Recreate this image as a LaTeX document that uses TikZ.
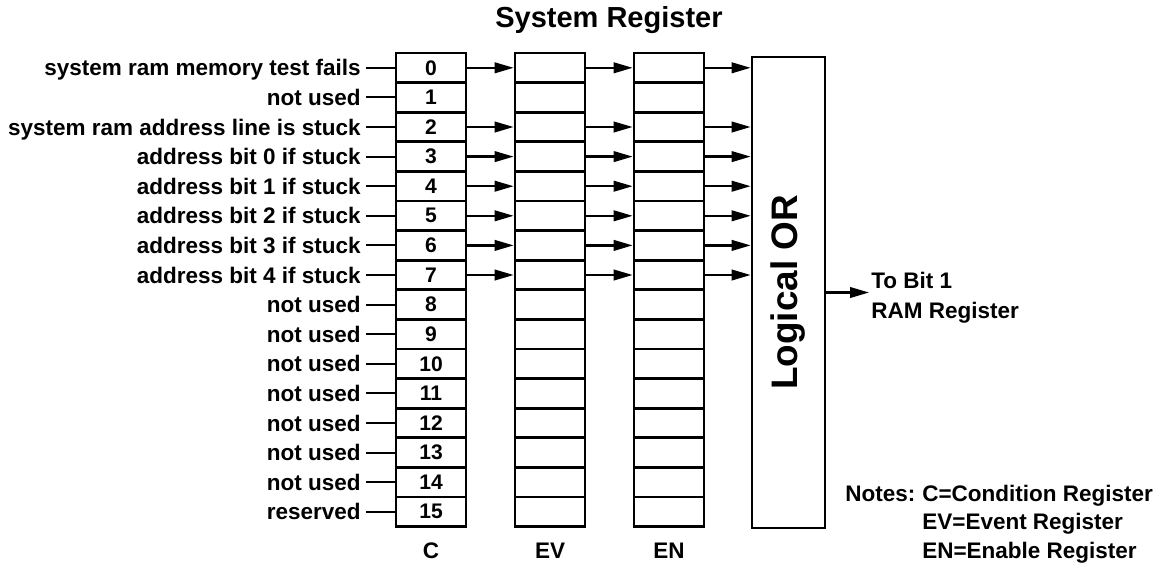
\documentclass[tikz,border=0pt]{standalone}
\usepackage{fontspec}
\setmainfont{Liberation Sans}
\usetikzlibrary{arrows.meta}
\tikzset{
  >={Triangle[length=3.8mm,width=2.1mm]},
  cell/.style={draw,line width=1.5pt,minimum width=14mm,minimum height=5.92mm,inner sep=0pt,
    font=\bfseries\fontsize{12}{14}\selectfont},
  orbox/.style={draw,line width=1.5pt,minimum width=14.6mm,minimum height=94.2mm,inner sep=0pt,
    font=\bfseries\fontsize{21}{24}\selectfont},
  lbl/.style={font=\bfseries\fontsize{12.8}{17}\selectfont,inner sep=0pt,align=left},
  wire/.style={line width=1.2pt},
  flow/.style={->,line width=1.3pt},
}
\begin{document}
\begin{tikzpicture}[x=0.2mm,y=-0.2mm]
  \useasboundingbox (0,0) rectangle (1173,569);
  \node[lbl,font=\bfseries\fontsize{16.5}{19}\selectfont,anchor=base] (title) at (609,27) {System Register};
  \node[orbox] (or) at (788.5,292.5) {\rotatebox{90}{Logical OR}};
  % the three registers, one row per bit
  \foreach \k/\t in {0/system ram memory test fails,1/not used,2/system ram address line is stuck,
      3/address bit 0 if stuck,4/address bit 1 if stuck,5/address bit 2 if stuck,6/address bit 3 if stuck,
      7/address bit 4 if stuck,8/not used,9/not used,10/not used,11/not used,12/not used,13/not used,
      14/not used,15/reserved}{
    \pgfmathsetmacro\yy{67.8+29.6*\k}
    \node[cell] (c\k) at (431,\yy) {\k};
    \node[cell] (ev\k) at (550,\yy) {};
    \node[cell] (en\k) at (669,\yy) {};
    \node[lbl,anchor=base east] (l\k) at (361,\yy+8) {\t};
    \draw[wire] ([xshift=1mm]l\k.east |- c\k.west) -- (c\k.west);
  }
  \foreach \k in {0,2,3,4,5,6,7}{
    \draw[flow] (c\k) -- (ev\k);
    \draw[flow] (ev\k) -- (en\k);
    \draw[flow] (en\k) -- (en\k -| or.west);
  }
  \node[lbl,anchor=base] (cname) at (431,558) {C};
  \node[lbl,anchor=base] (evname) at (550,558) {EV};
  \node[lbl,anchor=base] (enname) at (669,558) {EN};
  % output
  \coordinate (out) at (869,292.5);
  \draw[flow] (or.east) -- (out);
  \node[lbl,anchor=west] (dest) at (871,298) {To Bit 1\\RAM Register};
  % notes
  \node[lbl,anchor=base west] (notes) at (845,501) {Notes:};
  \foreach \t [count=\i] in {C=Condition Register,EV=Event Register,EN=Enable Register}
    \node[lbl,anchor=base west] (note\i) at (922,501+28.5*\i-28.5) {\t};
\end{tikzpicture}
\end{document}
